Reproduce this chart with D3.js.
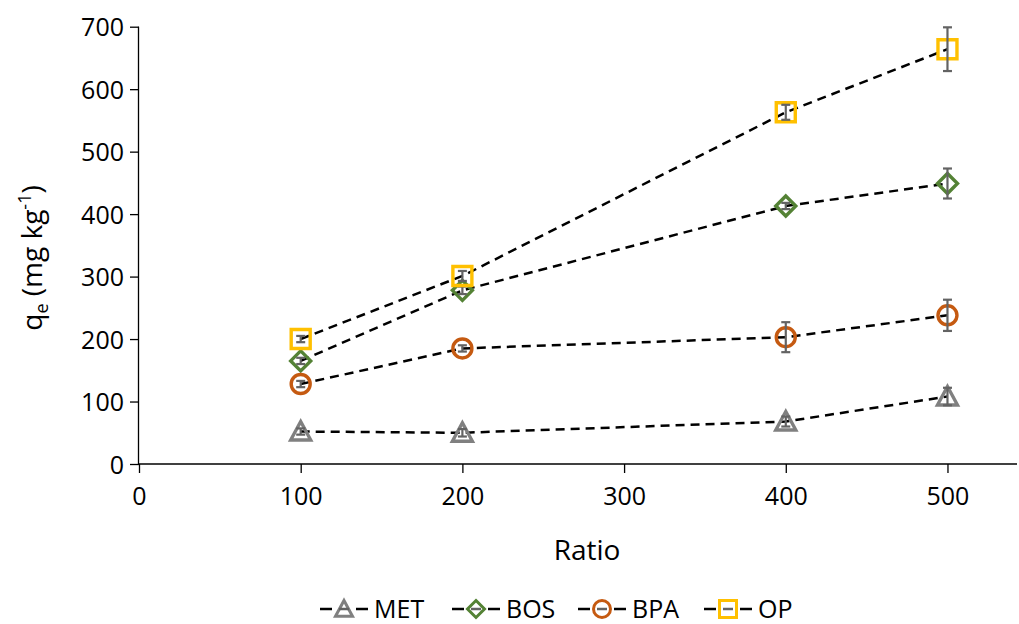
<!DOCTYPE html>
<html><head><meta charset="utf-8">
<script src="https://cdn.jsdelivr.net/npm/d3@7"></script>
<style>body{margin:0;background:#fff;} text{font-family:"Open Sans",sans-serif;fill:#000;}</style>
</head><body>
<svg id="c" width="1019" height="624"></svg>
<script>
const ratios = [100, 200, 400, 500];
const xTicks = [0, 100, 200, 300, 400, 500];
const yTicks = [0, 100, 200, 300, 400, 500, 600, 700];
const seriesNames = ["MET", "BOS", "BPA", "OP"];
const metValues = [52, 50, 68, 108];
const metErrors = [5, 6, 8, 14];
const bosValues = [165, 278, 413, 449];
const bosErrors = [5, 6, 5, 24];
const bpaValues = [128, 185, 203, 238];
const bpaErrors = [5, 5, 24, 25];
const opValues = [200, 301, 563, 664];
const opErrors = [5, 8, 12, 35];
const colors = ["#808080", "#548235", "#c55a11", "#ffc000"];
const shapes = ["triangle", "diamond", "circle", "square"];

const series = seriesNames.map((n, i) => ({
  name: n, color: colors[i], shape: shapes[i],
  values: [metValues, bosValues, bpaValues, opValues][i],
  errors: [metErrors, bosErrors, bpaErrors, opErrors][i]
}));

const svg = d3.select("#c");
const x = d3.scaleLinear().domain([0, 543]).range([139, 1017]);
const y = d3.scaleLinear().domain([0, 700]).range([464, 26.7]);

// axes
const ya = svg.append("g").attr("transform", "translate(139,0)")
  .call(d3.axisLeft(y).tickValues(yTicks).tickSize(9).tickPadding(6));
ya.select(".domain").attr("d", `M-0.5,${y(700)}V${y(0)}`);
const xa = svg.append("g").attr("transform", "translate(0,464)")
  .call(d3.axisBottom(x).tickValues(xTicks).tickSize(9).tickPadding(8));
xa.select(".domain").attr("d", `M139,0H1017`);
svg.selectAll(".domain, .tick line").attr("stroke", "#000").attr("stroke-width", 1.3);
svg.selectAll(".tick text").style("font-size", "25px").style("font-family", "'Open Sans',sans-serif").attr("fill", "#000");
ya.selectAll(".tick text").attr("dy", "0.36em");
xa.selectAll(".tick text").attr("dy", "0.95em");

function markerPath(shape, s) {
  const h = s / 2;
  if (shape === "triangle") return `M0,${-h}L${h},${h*0.85}L${-h},${h*0.85}Z`;
  if (shape === "diamond") return `M0,${-h}L${h},0L0,${h}L${-h},0Z`;
  if (shape === "square") return `M${-h},${-h}H${h}V${h}H${-h}Z`;
  return null;
}
function drawMarker(g, shape, color, s, sw) {
  if (shape === "circle") {
    g.append("circle").attr("r", s/2).attr("fill", "none").attr("stroke", color).attr("stroke-width", sw);
  } else {
    g.append("path").attr("d", markerPath(shape, s)).attr("fill", "none")
      .attr("stroke", color).attr("stroke-width", sw).attr("stroke-linejoin", "miter");
  }
}

const line = d3.line().x(d => x(d[0])).y(d => y(d[1]));
series.forEach(s => {
  const pts = ratios.map((r, i) => [r, s.values[i], s.errors[i]]);
  svg.append("path").attr("d", line(pts)).attr("fill", "none").attr("stroke", "#000")
    .attr("stroke-width", 2.5).attr("stroke-dasharray", "9,6");
  pts.forEach(p => {
    const g = svg.append("g").attr("transform", `translate(${x(p[0])},${y(p[1])})`);
    drawMarker(g, s.shape, s.color, s.shape === "circle" ? 19 : (s.shape === "square" ? 19 : 20), 3.4);
  });
  pts.forEach(p => {
    const cx = x(p[0]);
    const y1 = y(p[1] + p[2]), y2 = y(p[1] - p[2]);
    const eg = svg.append("g").attr("stroke", "#636363").attr("stroke-width", 2.2);
    eg.append("line").attr("x1", cx).attr("x2", cx).attr("y1", y1).attr("y2", y2);
    eg.append("line").attr("x1", cx - 4.5).attr("x2", cx + 4.5).attr("y1", y1).attr("y2", y1);
    eg.append("line").attr("x1", cx - 4.5).attr("x2", cx + 4.5).attr("y1", y2).attr("y2", y2);
  });
});

// axis titles
svg.append("text").attr("x", 587).attr("y", 560).attr("text-anchor", "middle")
  .style("font-size", "28px").text("Ratio");
const yt = svg.append("text").attr("transform", "translate(42,258) rotate(-90)")
  .attr("text-anchor", "middle").style("font-size", "28px");
yt.append("tspan").text("q");
yt.append("tspan").attr("dy", 6).style("font-size", "18px").text("e");
yt.append("tspan").attr("dy", -6).text(" (mg kg");
yt.append("tspan").attr("dy", -11).style("font-size", "18px").text("-1");
yt.append("tspan").attr("dy", 11).text(")");

// legend
const legX = [320, 452, 578, 704];
series.forEach((s, i) => {
  const g = svg.append("g").attr("transform", `translate(${legX[i]},609)`);
  g.append("line").attr("x1", 0).attr("x2", 12).attr("stroke", "#000").attr("stroke-width", 2.5);
  g.append("line").attr("x1", 36).attr("x2", 48).attr("stroke", "#000").attr("stroke-width", 2.5);
  const mg = g.append("g").attr("transform", "translate(24,0)");
  drawMarker(mg, s.shape, s.color, 17, 3);
  mg.append("line").attr("x1", -5).attr("x2", 5).attr("stroke", "#636363").attr("stroke-width", 2.5);
  g.append("text").attr("x", 54).attr("y", 0).attr("dy", "0.36em").style("font-size", "25px").text(s.name);
});
</script>
</body></html>
